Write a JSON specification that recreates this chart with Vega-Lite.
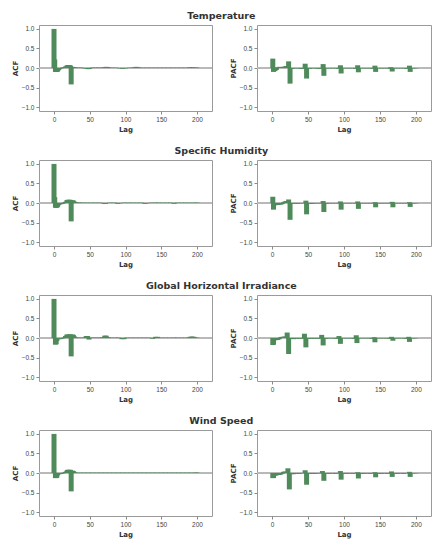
{
  "$schema": "https://vega.github.io/schema/vega-lite/v6.json",
  "background": "#ffffff",
  "padding": {"left": 10, "top": 11, "right": 4, "bottom": 2},
  "spacing": 13,
  "datasets": {
    "temp_acf": [
      {"lag":0,"r":1.0},{"lag":1,"r":0.22},{"lag":2,"r":-0.1},{"lag":3,"r":-0.1},{"lag":4,"r":-0.1},{"lag":5,"r":-0.09},{"lag":6,"r":-0.06},{"lag":7,"r":-0.04},{"lag":8,"r":-0.02},{"lag":10,"r":-0.01},{"lag":12,"r":0.01},{"lag":14,"r":0.02},{"lag":16,"r":0.04},{"lag":18,"r":0.06},{"lag":19,"r":0.07},{"lag":20,"r":0.07},{"lag":21,"r":0.07},{"lag":22,"r":0.07},{"lag":23,"r":0.06},{"lag":24,"r":-0.42},{"lag":26,"r":0.03},{"lag":28,"r":0.02},{"lag":30,"r":0.01},{"lag":34,"r":0.01},{"lag":38,"r":0.01},{"lag":42,"r":-0.01},{"lag":46,"r":-0.02},{"lag":48,"r":-0.03},{"lag":50,"r":-0.02},{"lag":54,"r":0.01},{"lag":58,"r":0.01},{"lag":62,"r":0.01},{"lag":66,"r":0.01},{"lag":70,"r":0.02},{"lag":73,"r":0.03},{"lag":76,"r":0.02},{"lag":80,"r":0.01},{"lag":86,"r":0.01},{"lag":92,"r":-0.01},{"lag":96,"r":-0.02},{"lag":100,"r":-0.01},{"lag":106,"r":0.01},{"lag":112,"r":0.02},{"lag":115,"r":0.03},{"lag":118,"r":0.02},{"lag":124,"r":0.01},{"lag":130,"r":0.01},{"lag":136,"r":0.01},{"lag":142,"r":0.01},{"lag":148,"r":0.01},{"lag":154,"r":0.01},{"lag":160,"r":0.01},{"lag":166,"r":0.01},{"lag":172,"r":0.01},{"lag":178,"r":0.01},{"lag":184,"r":0.01},{"lag":190,"r":0.02},{"lag":194,"r":0.02},{"lag":198,"r":0.01},{"lag":200,"r":0.01}
    ],
    "temp_pacf": [
      {"lag":1,"r":0.24},{"lag":2,"r":-0.1},{"lag":4,"r":-0.08},{"lag":6,"r":-0.05},{"lag":8,"r":0.02},{"lag":10,"r":0.03},{"lag":12,"r":0.02},{"lag":14,"r":0.02},{"lag":16,"r":0.03},{"lag":18,"r":0.04},{"lag":20,"r":0.05},{"lag":23,"r":0.17},{"lag":25,"r":-0.4},{"lag":28,"r":-0.02},{"lag":32,"r":-0.01},{"lag":36,"r":-0.01},{"lag":40,"r":-0.02},{"lag":43,"r":-0.02},{"lag":46,"r":0.11},{"lag":48,"r":-0.27},{"lag":52,"r":-0.02},{"lag":56,"r":-0.01},{"lag":60,"r":-0.01},{"lag":64,"r":-0.02},{"lag":68,"r":-0.02},{"lag":71,"r":0.1},{"lag":72,"r":-0.2},{"lag":76,"r":-0.01},{"lag":80,"r":-0.01},{"lag":84,"r":-0.01},{"lag":88,"r":-0.01},{"lag":92,"r":-0.02},{"lag":95,"r":0.07},{"lag":96,"r":-0.14},{"lag":100,"r":-0.01},{"lag":104,"r":-0.01},{"lag":108,"r":-0.01},{"lag":112,"r":-0.01},{"lag":116,"r":-0.02},{"lag":119,"r":0.07},{"lag":120,"r":-0.11},{"lag":124,"r":-0.01},{"lag":128,"r":-0.01},{"lag":132,"r":-0.01},{"lag":136,"r":-0.01},{"lag":140,"r":-0.02},{"lag":143,"r":0.06},{"lag":144,"r":-0.1},{"lag":148,"r":-0.01},{"lag":152,"r":-0.01},{"lag":156,"r":-0.01},{"lag":160,"r":-0.01},{"lag":164,"r":-0.02},{"lag":165,"r":0.02},{"lag":167,"r":-0.09},{"lag":171,"r":-0.01},{"lag":175,"r":-0.01},{"lag":179,"r":-0.01},{"lag":183,"r":-0.01},{"lag":187,"r":-0.02},{"lag":191,"r":0.06},{"lag":192,"r":-0.1},{"lag":196,"r":-0.01},{"lag":200,"r":-0.01}
    ],
    "hum_acf": [
      {"lag":0,"r":1.0},{"lag":1,"r":0.15},{"lag":2,"r":-0.12},{"lag":3,"r":-0.12},{"lag":4,"r":-0.12},{"lag":5,"r":-0.1},{"lag":6,"r":-0.06},{"lag":7,"r":-0.04},{"lag":8,"r":-0.03},{"lag":10,"r":-0.03},{"lag":12,"r":-0.02},{"lag":14,"r":0.01},{"lag":16,"r":0.03},{"lag":18,"r":0.07},{"lag":19,"r":0.08},{"lag":20,"r":0.08},{"lag":21,"r":0.08},{"lag":22,"r":0.08},{"lag":23,"r":0.08},{"lag":24,"r":-0.47},{"lag":26,"r":0.07},{"lag":27,"r":0.06},{"lag":28,"r":0.04},{"lag":30,"r":0.02},{"lag":33,"r":0.01},{"lag":36,"r":0.01},{"lag":40,"r":0.01},{"lag":46,"r":0.01},{"lag":52,"r":0.01},{"lag":58,"r":0.01},{"lag":64,"r":0.01},{"lag":70,"r":-0.02},{"lag":72,"r":-0.02},{"lag":78,"r":0.01},{"lag":84,"r":0.01},{"lag":89,"r":-0.02},{"lag":92,"r":-0.01},{"lag":98,"r":0.01},{"lag":104,"r":0.01},{"lag":110,"r":0.01},{"lag":116,"r":0.01},{"lag":122,"r":0.01},{"lag":127,"r":-0.02},{"lag":130,"r":-0.01},{"lag":136,"r":0.01},{"lag":142,"r":0.01},{"lag":146,"r":0.01},{"lag":152,"r":0.01},{"lag":158,"r":0.01},{"lag":163,"r":0.01},{"lag":168,"r":-0.02},{"lag":172,"r":0.01},{"lag":178,"r":0.01},{"lag":184,"r":0.01},{"lag":190,"r":0.01},{"lag":196,"r":0.01},{"lag":200,"r":0.01}
    ],
    "hum_pacf": [
      {"lag":1,"r":0.16},{"lag":2,"r":-0.17},{"lag":4,"r":-0.06},{"lag":6,"r":-0.05},{"lag":8,"r":-0.05},{"lag":10,"r":-0.04},{"lag":12,"r":-0.04},{"lag":14,"r":-0.03},{"lag":16,"r":0.02},{"lag":18,"r":0.04},{"lag":20,"r":0.05},{"lag":23,"r":0.09},{"lag":25,"r":-0.43},{"lag":28,"r":-0.02},{"lag":32,"r":-0.02},{"lag":36,"r":-0.02},{"lag":40,"r":-0.01},{"lag":44,"r":-0.01},{"lag":47,"r":0.06},{"lag":48,"r":-0.29},{"lag":52,"r":-0.02},{"lag":56,"r":-0.02},{"lag":60,"r":-0.01},{"lag":64,"r":-0.01},{"lag":68,"r":-0.01},{"lag":71,"r":0.05},{"lag":72,"r":-0.23},{"lag":76,"r":-0.02},{"lag":80,"r":-0.01},{"lag":84,"r":-0.01},{"lag":88,"r":-0.01},{"lag":92,"r":-0.01},{"lag":95,"r":0.04},{"lag":96,"r":-0.17},{"lag":100,"r":-0.01},{"lag":104,"r":-0.01},{"lag":108,"r":-0.01},{"lag":112,"r":-0.01},{"lag":116,"r":-0.01},{"lag":119,"r":0.04},{"lag":120,"r":-0.15},{"lag":124,"r":-0.01},{"lag":128,"r":-0.01},{"lag":132,"r":-0.01},{"lag":136,"r":-0.01},{"lag":140,"r":-0.01},{"lag":143,"r":0.02},{"lag":144,"r":-0.11},{"lag":148,"r":-0.01},{"lag":152,"r":-0.01},{"lag":156,"r":-0.01},{"lag":160,"r":-0.01},{"lag":164,"r":-0.01},{"lag":167,"r":0.03},{"lag":168,"r":-0.11},{"lag":172,"r":-0.01},{"lag":176,"r":-0.01},{"lag":180,"r":-0.01},{"lag":184,"r":-0.01},{"lag":188,"r":-0.01},{"lag":191,"r":0.02},{"lag":192,"r":-0.1},{"lag":196,"r":-0.01},{"lag":200,"r":-0.01}
    ],
    "ghi_acf": [
      {"lag":0,"r":1.0},{"lag":2,"r":-0.17},{"lag":3,"r":-0.16},{"lag":4,"r":-0.08},{"lag":6,"r":-0.03},{"lag":8,"r":-0.03},{"lag":10,"r":-0.02},{"lag":12,"r":-0.01},{"lag":14,"r":0.01},{"lag":16,"r":0.05},{"lag":18,"r":0.09},{"lag":20,"r":0.09},{"lag":22,"r":0.09},{"lag":23,"r":0.09},{"lag":24,"r":-0.47},{"lag":26,"r":0.09},{"lag":27,"r":0.08},{"lag":28,"r":0.05},{"lag":30,"r":0.02},{"lag":34,"r":0.01},{"lag":38,"r":0.01},{"lag":42,"r":0.01},{"lag":45,"r":0.05},{"lag":47,"r":0.05},{"lag":49,"r":-0.04},{"lag":52,"r":0.01},{"lag":56,"r":0.01},{"lag":60,"r":0.01},{"lag":64,"r":0.01},{"lag":68,"r":0.02},{"lag":71,"r":0.06},{"lag":73,"r":0.06},{"lag":76,"r":0.02},{"lag":80,"r":0.01},{"lag":86,"r":0.01},{"lag":90,"r":0.01},{"lag":95,"r":-0.03},{"lag":98,"r":-0.03},{"lag":102,"r":0.01},{"lag":108,"r":0.01},{"lag":114,"r":0.01},{"lag":120,"r":0.01},{"lag":126,"r":0.01},{"lag":132,"r":0.01},{"lag":138,"r":-0.02},{"lag":142,"r":0.03},{"lag":145,"r":0.03},{"lag":150,"r":0.01},{"lag":156,"r":0.01},{"lag":162,"r":0.01},{"lag":168,"r":0.01},{"lag":172,"r":0.01},{"lag":178,"r":0.01},{"lag":184,"r":0.01},{"lag":190,"r":0.03},{"lag":193,"r":0.04},{"lag":196,"r":0.03},{"lag":200,"r":0.01}
    ],
    "ghi_pacf": [
      {"lag":1,"r":-0.18},{"lag":2,"r":-0.17},{"lag":4,"r":-0.06},{"lag":6,"r":-0.05},{"lag":8,"r":-0.05},{"lag":10,"r":-0.03},{"lag":12,"r":0.02},{"lag":14,"r":0.03},{"lag":16,"r":0.03},{"lag":18,"r":0.04},{"lag":21,"r":0.14},{"lag":23,"r":-0.41},{"lag":27,"r":-0.02},{"lag":30,"r":-0.03},{"lag":34,"r":-0.02},{"lag":38,"r":-0.02},{"lag":42,"r":-0.02},{"lag":45,"r":0.11},{"lag":47,"r":-0.24},{"lag":51,"r":-0.02},{"lag":55,"r":-0.02},{"lag":59,"r":-0.02},{"lag":63,"r":-0.01},{"lag":66,"r":-0.02},{"lag":69,"r":0.08},{"lag":71,"r":-0.19},{"lag":75,"r":-0.02},{"lag":79,"r":-0.01},{"lag":83,"r":-0.01},{"lag":87,"r":-0.01},{"lag":90,"r":-0.02},{"lag":93,"r":0.05},{"lag":95,"r":-0.15},{"lag":99,"r":-0.01},{"lag":103,"r":-0.01},{"lag":107,"r":-0.01},{"lag":111,"r":-0.01},{"lag":114,"r":-0.02},{"lag":117,"r":0.07},{"lag":118,"r":-0.13},{"lag":122,"r":-0.01},{"lag":126,"r":-0.01},{"lag":130,"r":-0.01},{"lag":134,"r":-0.01},{"lag":138,"r":-0.02},{"lag":142,"r":0.02},{"lag":143,"r":-0.11},{"lag":147,"r":-0.01},{"lag":151,"r":-0.01},{"lag":155,"r":-0.01},{"lag":159,"r":-0.01},{"lag":163,"r":-0.02},{"lag":166,"r":0.03},{"lag":168,"r":-0.07},{"lag":172,"r":-0.01},{"lag":176,"r":-0.01},{"lag":180,"r":-0.01},{"lag":184,"r":-0.01},{"lag":187,"r":-0.02},{"lag":190,"r":0.03},{"lag":191,"r":-0.1},{"lag":195,"r":-0.01},{"lag":199,"r":-0.01}
    ],
    "wind_acf": [
      {"lag":0,"r":1.0},{"lag":2,"r":-0.13},{"lag":3,"r":-0.13},{"lag":4,"r":-0.12},{"lag":5,"r":-0.06},{"lag":6,"r":-0.03},{"lag":8,"r":-0.03},{"lag":10,"r":-0.02},{"lag":12,"r":-0.01},{"lag":14,"r":0.01},{"lag":16,"r":0.03},{"lag":18,"r":0.06},{"lag":19,"r":0.08},{"lag":20,"r":0.08},{"lag":21,"r":0.08},{"lag":22,"r":0.08},{"lag":23,"r":0.08},{"lag":24,"r":-0.47},{"lag":26,"r":0.06},{"lag":27,"r":0.05},{"lag":28,"r":0.03},{"lag":30,"r":0.01},{"lag":36,"r":0.01},{"lag":42,"r":0.01},{"lag":48,"r":0.01},{"lag":54,"r":0.01},{"lag":60,"r":0.01},{"lag":66,"r":0.01},{"lag":72,"r":0.01},{"lag":78,"r":0.01},{"lag":84,"r":0.01},{"lag":90,"r":0.01},{"lag":96,"r":0.01},{"lag":102,"r":0.01},{"lag":108,"r":0.01},{"lag":114,"r":0.01},{"lag":120,"r":0.01},{"lag":126,"r":0.01},{"lag":132,"r":0.01},{"lag":138,"r":0.01},{"lag":144,"r":0.01},{"lag":150,"r":0.01},{"lag":156,"r":0.01},{"lag":162,"r":0.01},{"lag":168,"r":0.01},{"lag":174,"r":0.01},{"lag":180,"r":0.01},{"lag":186,"r":0.01},{"lag":192,"r":0.01},{"lag":198,"r":0.01},{"lag":200,"r":0.01}
    ],
    "wind_pacf": [
      {"lag":1,"r":-0.13},{"lag":2,"r":-0.13},{"lag":4,"r":-0.07},{"lag":6,"r":-0.06},{"lag":8,"r":-0.05},{"lag":10,"r":-0.05},{"lag":12,"r":-0.04},{"lag":14,"r":-0.02},{"lag":16,"r":0.03},{"lag":18,"r":0.04},{"lag":22,"r":0.12},{"lag":24,"r":-0.42},{"lag":27,"r":-0.03},{"lag":30,"r":-0.03},{"lag":34,"r":-0.02},{"lag":38,"r":-0.02},{"lag":42,"r":-0.01},{"lag":46,"r":0.07},{"lag":48,"r":-0.3},{"lag":52,"r":-0.02},{"lag":56,"r":-0.02},{"lag":60,"r":-0.02},{"lag":64,"r":-0.01},{"lag":68,"r":-0.01},{"lag":70,"r":0.05},{"lag":72,"r":-0.2},{"lag":76,"r":-0.02},{"lag":80,"r":-0.02},{"lag":84,"r":-0.01},{"lag":88,"r":-0.02},{"lag":92,"r":-0.01},{"lag":95,"r":0.05},{"lag":96,"r":-0.17},{"lag":100,"r":-0.02},{"lag":104,"r":-0.02},{"lag":108,"r":-0.01},{"lag":112,"r":-0.02},{"lag":116,"r":-0.01},{"lag":119,"r":0.02},{"lag":120,"r":-0.14},{"lag":124,"r":-0.02},{"lag":128,"r":-0.02},{"lag":132,"r":-0.01},{"lag":136,"r":-0.02},{"lag":140,"r":-0.01},{"lag":143,"r":0.02},{"lag":144,"r":-0.11},{"lag":148,"r":-0.02},{"lag":152,"r":-0.02},{"lag":156,"r":-0.01},{"lag":160,"r":-0.02},{"lag":163,"r":-0.01},{"lag":166,"r":0.04},{"lag":167,"r":-0.1},{"lag":171,"r":-0.02},{"lag":175,"r":-0.02},{"lag":179,"r":-0.01},{"lag":183,"r":-0.02},{"lag":187,"r":-0.01},{"lag":191,"r":0.03},{"lag":192,"r":-0.1},{"lag":196,"r":-0.01},{"lag":200,"r":-0.01}
    ]
  },
  "vconcat": [
    {
      "title": "Temperature",
      "spacing": 15,
      "hconcat": [
        {"width":173,"height":86,"data":{"name":"temp_acf"},"layer":[
          {"mark":{"type":"rule","color":"#b8b8b8","strokeWidth":1},"encoding":{"y":{"datum":0,"type":"quantitative","scale":{"domain":[-1.1,1.1],"nice":false},"axis":{"values":[-1,-0.5,0,0.5,1],"format":".1f","title":"ACF"}}}},
          {"mark":{"type":"bar","orient":"vertical","size":5,"color":"#4f8a5b"},"encoding":{
            "x":{"field":"lag","type":"quantitative","scale":{"domain":[-14,214],"nice":false,"zero":false},"axis":{"values":[0,50,100,150,200],"title":"Lag"}},
            "y":{"field":"r","type":"quantitative","stack":null,"scale":{"domain":[-1.1,1.1],"nice":false},"axis":{"values":[-1,-0.5,0,0.5,1],"format":".1f","title":"ACF"}}}}
        ]},
        {"width":174,"height":86,"data":{"name":"temp_pacf"},"layer":[
          {"mark":{"type":"rule","color":"#b8b8b8","strokeWidth":1},"encoding":{"y":{"datum":0,"type":"quantitative","scale":{"domain":[-1.1,1.1],"nice":false},"axis":{"values":[-1,-0.5,0,0.5,1],"format":".1f","title":"PACF"}}}},
          {"mark":{"type":"bar","orient":"vertical","size":5,"color":"#4f8a5b"},"encoding":{
            "x":{"field":"lag","type":"quantitative","scale":{"domain":[-14,214],"nice":false,"zero":false},"axis":{"values":[0,50,100,150,200],"title":"Lag"}},
            "y":{"field":"r","type":"quantitative","stack":null,"scale":{"domain":[-1.1,1.1],"nice":false},"axis":{"values":[-1,-0.5,0,0.5,1],"format":".1f","title":"PACF"}}}}
        ]}
      ]
    },
    {
      "title": "Specific Humidity",
      "spacing": 15,
      "hconcat": [
        {"width":173,"height":86,"data":{"name":"hum_acf"},"layer":[
          {"mark":{"type":"rule","color":"#b8b8b8","strokeWidth":1},"encoding":{"y":{"datum":0,"type":"quantitative","scale":{"domain":[-1.1,1.1],"nice":false},"axis":{"values":[-1,-0.5,0,0.5,1],"format":".1f","title":"ACF"}}}},
          {"mark":{"type":"bar","orient":"vertical","size":5,"color":"#4f8a5b"},"encoding":{
            "x":{"field":"lag","type":"quantitative","scale":{"domain":[-14,214],"nice":false,"zero":false},"axis":{"values":[0,50,100,150,200],"title":"Lag"}},
            "y":{"field":"r","type":"quantitative","stack":null,"scale":{"domain":[-1.1,1.1],"nice":false},"axis":{"values":[-1,-0.5,0,0.5,1],"format":".1f","title":"ACF"}}}}
        ]},
        {"width":174,"height":86,"data":{"name":"hum_pacf"},"layer":[
          {"mark":{"type":"rule","color":"#b8b8b8","strokeWidth":1},"encoding":{"y":{"datum":0,"type":"quantitative","scale":{"domain":[-1.1,1.1],"nice":false},"axis":{"values":[-1,-0.5,0,0.5,1],"format":".1f","title":"PACF"}}}},
          {"mark":{"type":"bar","orient":"vertical","size":5,"color":"#4f8a5b"},"encoding":{
            "x":{"field":"lag","type":"quantitative","scale":{"domain":[-14,214],"nice":false,"zero":false},"axis":{"values":[0,50,100,150,200],"title":"Lag"}},
            "y":{"field":"r","type":"quantitative","stack":null,"scale":{"domain":[-1.1,1.1],"nice":false},"axis":{"values":[-1,-0.5,0,0.5,1],"format":".1f","title":"PACF"}}}}
        ]}
      ]
    },
    {
      "title": "Global Horizontal Irradiance",
      "spacing": 15,
      "hconcat": [
        {"width":173,"height":86,"data":{"name":"ghi_acf"},"layer":[
          {"mark":{"type":"rule","color":"#b8b8b8","strokeWidth":1},"encoding":{"y":{"datum":0,"type":"quantitative","scale":{"domain":[-1.1,1.1],"nice":false},"axis":{"values":[-1,-0.5,0,0.5,1],"format":".1f","title":"ACF"}}}},
          {"mark":{"type":"bar","orient":"vertical","size":5,"color":"#4f8a5b"},"encoding":{
            "x":{"field":"lag","type":"quantitative","scale":{"domain":[-14,214],"nice":false,"zero":false},"axis":{"values":[0,50,100,150,200],"title":"Lag"}},
            "y":{"field":"r","type":"quantitative","stack":null,"scale":{"domain":[-1.1,1.1],"nice":false},"axis":{"values":[-1,-0.5,0,0.5,1],"format":".1f","title":"ACF"}}}}
        ]},
        {"width":174,"height":86,"data":{"name":"ghi_pacf"},"layer":[
          {"mark":{"type":"rule","color":"#b8b8b8","strokeWidth":1},"encoding":{"y":{"datum":0,"type":"quantitative","scale":{"domain":[-1.1,1.1],"nice":false},"axis":{"values":[-1,-0.5,0,0.5,1],"format":".1f","title":"PACF"}}}},
          {"mark":{"type":"bar","orient":"vertical","size":5,"color":"#4f8a5b"},"encoding":{
            "x":{"field":"lag","type":"quantitative","scale":{"domain":[-14,214],"nice":false,"zero":false},"axis":{"values":[0,50,100,150,200],"title":"Lag"}},
            "y":{"field":"r","type":"quantitative","stack":null,"scale":{"domain":[-1.1,1.1],"nice":false},"axis":{"values":[-1,-0.5,0,0.5,1],"format":".1f","title":"PACF"}}}}
        ]}
      ]
    },
    {
      "title": "Wind Speed",
      "spacing": 15,
      "hconcat": [
        {"width":173,"height":86,"data":{"name":"wind_acf"},"layer":[
          {"mark":{"type":"rule","color":"#b8b8b8","strokeWidth":1},"encoding":{"y":{"datum":0,"type":"quantitative","scale":{"domain":[-1.1,1.1],"nice":false},"axis":{"values":[-1,-0.5,0,0.5,1],"format":".1f","title":"ACF"}}}},
          {"mark":{"type":"bar","orient":"vertical","size":5,"color":"#4f8a5b"},"encoding":{
            "x":{"field":"lag","type":"quantitative","scale":{"domain":[-14,214],"nice":false,"zero":false},"axis":{"values":[0,50,100,150,200],"title":"Lag"}},
            "y":{"field":"r","type":"quantitative","stack":null,"scale":{"domain":[-1.1,1.1],"nice":false},"axis":{"values":[-1,-0.5,0,0.5,1],"format":".1f","title":"ACF"}}}}
        ]},
        {"width":174,"height":86,"data":{"name":"wind_pacf"},"layer":[
          {"mark":{"type":"rule","color":"#b8b8b8","strokeWidth":1},"encoding":{"y":{"datum":0,"type":"quantitative","scale":{"domain":[-1.1,1.1],"nice":false},"axis":{"values":[-1,-0.5,0,0.5,1],"format":".1f","title":"PACF"}}}},
          {"mark":{"type":"bar","orient":"vertical","size":5,"color":"#4f8a5b"},"encoding":{
            "x":{"field":"lag","type":"quantitative","scale":{"domain":[-14,214],"nice":false,"zero":false},"axis":{"values":[0,50,100,150,200],"title":"Lag"}},
            "y":{"field":"r","type":"quantitative","stack":null,"scale":{"domain":[-1.1,1.1],"nice":false},"axis":{"values":[-1,-0.5,0,0.5,1],"format":".1f","title":"PACF"}}}}
        ]}
      ]
    }
  ],
  "config": {
    "view": {"stroke": "#9a9a9a", "strokeWidth": 1},
    "font": "Liberation Sans",
    "axis": {"grid": false, "domain": false, "tickColor": "#8a8a8a", "tickSize": 3, "labelFontSize": 6.5, "labelColor": "#444444", "labelPadding": 2, "labelOverlap": false, "labelFlush": false, "titleFontSize": 7, "titleFont": "DejaVu Sans", "titleFontWeight": "bold", "titleColor": "#333333", "titlePadding": 3},
    "title": {"font": "DejaVu Sans", "fontSize": 9.5, "fontWeight": "bold", "color": "#333333", "anchor": "middle", "offset": 4}
  }
}
